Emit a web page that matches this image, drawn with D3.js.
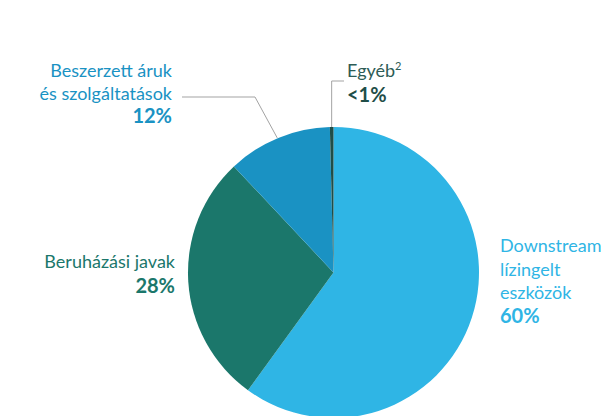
<!DOCTYPE html>
<html>
<head>
<meta charset="utf-8">
<script src="https://cdn.jsdelivr.net/npm/d3@7"></script>
<style>
  body { margin: 0; background: #fff; }
  svg { display: block; font-family: Lato, "Open Sans", sans-serif; }
</style>
</head>
<body>
<svg id="chart" width="601" height="416"></svg>
<script>
// slices, clockwise from 12 o'clock
const categories = ['Downstream lízingelt eszközök', 'Beruházási javak', 'Beszerzett áruk és szolgáltatások', 'Egyéb'];
const values = [60, 28, 11.6, 0.4];
const shareLabels = ['60%', '28%', '12%', '<1%'];
const colors = ['#2fb5e5', '#1b776b', '#1a92c3', '#1f4e48'];

const svg = d3.select('#chart');
const cx = 333.5, cy = 272.5, radius = 145.5;

const pie = d3.pie().sort(null).value(d => d.value);
const arc = d3.arc().innerRadius(0).outerRadius(radius);

const data = categories.map((c, i) => ({ name: c, value: values[i], color: colors[i], share: shareLabels[i] }));
const arcs = pie(data);

let g = svg.append('g').attr('transform', `translate(${cx},${cy})`);

g.selectAll('path.slice')
    .data(arcs)
    .enter()
    .append('path')
    .attr('class', 'slice')
    .attr('d', arc)
    .attr('fill', d => d.data.color);

// point on the rim at the middle of a slice
function rimPoint(a) {
    let mid = (a.startAngle + a.endAngle) / 2;
    return [cx + Math.sin(mid) * radius, cy - Math.cos(mid) * radius];
}

// leader lines
let leaderGroup = svg.append('g')
    .attr('fill', 'none')
    .attr('stroke', '#a3a3a3')
    .attr('stroke-width', 1);

let pBesz = rimPoint(arcs[2]);
leaderGroup.append('polyline')
    .attr('points', [[pBesz[0] - 1, pBesz[1]], [255, 97], [182, 97]].map(p => p.join(',')).join(' '));

let pEgy = rimPoint(arcs[3]);
leaderGroup.append('polyline')
    .attr('points', [[pEgy[0], pEgy[1]], [pEgy[0], 81], [344, 81]].map(p => p.join(',')).join(' '));

// labels
function label(lines, x, y0, step, anchor, color) {
    let t = svg.append('text')
        .attr('text-anchor', anchor)
        .attr('fill', color)
        .style('font-size', '18px');
    lines.forEach((ln, i) => {
        t.append('tspan')
            .attr('x', x)
            .attr('y', y0 + i * step)
            .text(ln);
    });
    return t;
}

function shareText(txt, x, y, anchor, color) {
    svg.append('text')
        .attr('x', x)
        .attr('y', y)
        .attr('text-anchor', anchor)
        .attr('fill', color)
        .style('font-size', '20px')
        .style('font-weight', 'bold')
        .text(txt);
}

label(['Beszerzett áruk', 'és szolgáltatások'], 172, 77, 22.5, 'end', '#1a92c3');
shareText(shareLabels[2], 172, 123, 'end', '#1a92c3');

let egy = label(['Egyéb'], 347, 77, 0, 'start', '#2d5c56');
egy.append('tspan')
    .attr('dy', -7)
    .style('font-size', '11px')
    .text('2');
shareText(shareLabels[3], 347, 102, 'start', '#1f4e48');

label(['Beruházási javak'], 175, 268, 0, 'end', '#1b776b');
shareText(shareLabels[1], 175, 293, 'end', '#1b776b');

label(['Downstream', 'lízingelt', 'eszközök'], 500, 252, 23.5, 'start', '#2fb5e5');
shareText(shareLabels[0], 500, 323, 'start', '#2fb5e5');
</script>
</body>
</html>
